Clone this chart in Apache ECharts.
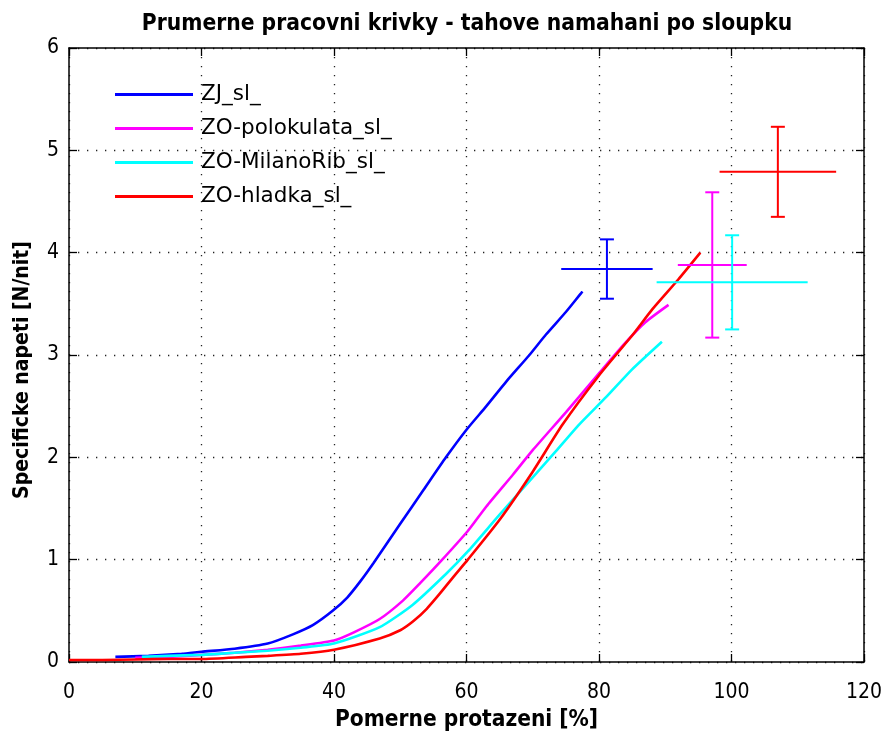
<!DOCTYPE html>
<html>
<head>
<meta charset="utf-8">
<script src="https://cdn.jsdelivr.net/npm/echarts@6/dist/echarts.min.js"></script>
<style>
  html, body { margin: 0; padding: 0; background: #fff; }
  #chart { width: 885px; height: 737px; }
</style>
</head>
<body>
<div id="chart"></div>
<script>
// Mean tensile working curves, strain [%] vs specific stress [N/nit]
const seriesNames = ['ZJ_sl_', 'ZO-polokulata_sl_', 'ZO-MilanoRib_sl_', 'ZO-hladka_sl_'];
const seriesColors = ['#0000ff', '#ff00ff', '#00ffff', '#ff0000'];

const zjX = [7, 12, 17, 20, 25, 30, 33.8, 36.8, 39.8, 42, 44, 46, 50, 53.5, 56.9, 60, 63, 66, 69.5, 72, 75, 77.5];
const zjY = [0.05, 0.06, 0.08, 0.10, 0.13, 0.18, 0.27, 0.36, 0.5, 0.63, 0.79, 0.97, 1.35, 1.68, 2.0, 2.27, 2.5, 2.74, 3.0, 3.2, 3.42, 3.62];

const poloX = [10, 15, 20, 25, 30, 35, 40, 43, 46.9, 50.4, 53, 56.2, 60.2, 63, 67, 70, 75, 80, 84, 87, 90.5];
const poloY = [0.04, 0.05, 0.07, 0.09, 0.12, 0.16, 0.21, 0.29, 0.42, 0.6, 0.77, 0.99, 1.28, 1.52, 1.83, 2.07, 2.44, 2.82, 3.12, 3.32, 3.49];

const milanoX = [11, 15, 20, 25, 30, 35, 40, 46.9, 51.9, 56.9, 60.2, 65, 70.5, 73.5, 77, 81.1, 85, 89.5];
const milanoY = [0.05, 0.06, 0.07, 0.09, 0.11, 0.14, 0.18, 0.34, 0.56, 0.86, 1.08, 1.44, 1.84, 2.06, 2.32, 2.59, 2.86, 3.13];

const hladkaX = [0, 5, 10, 15, 20, 26.7, 30, 35, 40, 46.9, 50, 52, 54, 56, 58, 60.2, 65, 70, 74.5, 80, 85, 88.1, 92, 95.3];
const hladkaY = [0.02, 0.02, 0.025, 0.03, 0.03, 0.05, 0.06, 0.08, 0.12, 0.23, 0.31, 0.40, 0.52, 0.67, 0.83, 1.0, 1.39, 1.86, 2.32, 2.80, 3.19, 3.45, 3.74, 4.0];

// Break points: mean strain / stress with their deviations
const breakX = [81.2, 97.1, 100.1, 107.0];
const breakY = [3.84, 3.88, 3.71, 4.79];
const breakXErr = [6.9, 5.2, 11.4, 8.8];
const breakYErr = [0.29, 0.71, 0.46, 0.44];

const xTicks = [0, 20, 40, 60, 80, 100, 120];
const yTicks = [0, 1, 2, 3, 4, 5, 6];

const curves = [[zjX, zjY], [poloX, poloY], [milanoX, milanoY], [hladkaX, hladkaY]];

const narrowFont = '"DejaVu Sans Condensed", "Liberation Sans", sans-serif';
const tickFont = { fontFamily: narrowFont, fontSize: 21, color: '#000' };

const chart = echarts.init(document.getElementById('chart'), null, { renderer: 'canvas' });

const lineSeries = curves.map((c, i) => ({
  name: seriesNames[i],
  type: 'line',
  xAxisIndex: 0,
  yAxisIndex: 0,
  data: c[0].map((x, k) => [x, c[1][k]]),
  symbol: 'none',
  smooth: 0.2,
  lineStyle: { color: seriesColors[i], width: 2.6 },
  itemStyle: { color: seriesColors[i] },
  z: 3
}));

const errSeries = breakX.map((x, i) => ({
  name: 'err' + i,
  type: 'custom',
  xAxisIndex: 0,
  yAxisIndex: 0,
  data: [[x, breakY[i], breakXErr[i], breakYErr[i]]],
  z: 4,
  renderItem: function (params, api) {
    const cx = api.value(0), cy = api.value(1), ex = api.value(2), ey = api.value(3);
    const left = api.coord([cx - ex, cy]);
    const right = api.coord([cx + ex, cy]);
    const top = api.coord([cx, cy + ey]);
    const bot = api.coord([cx, cy - ey]);
    const cap = 7;
    const st = { stroke: seriesColors[i], lineWidth: 2 };
    return {
      type: 'group',
      children: [
        { type: 'line', shape: { x1: left[0], y1: left[1], x2: right[0], y2: right[1] }, style: st },
        { type: 'line', shape: { x1: top[0], y1: top[1], x2: bot[0], y2: bot[1] }, style: st },
        { type: 'line', shape: { x1: top[0] - cap, y1: top[1], x2: top[0] + cap, y2: top[1] }, style: st },
        { type: 'line', shape: { x1: bot[0] - cap, y1: bot[1], x2: bot[0] + cap, y2: bot[1] }, style: st }
      ]
    };
  }
}));

const gridDots = { show: true, lineStyle: { color: '#222', width: 1.3, type: [1.3, 7.7] } };
const boxLine = { show: true, onZero: false, lineStyle: { color: '#000', width: 1.5 } };
const innerTick = { show: true, inside: true, length: 8, lineStyle: { color: '#000', width: 1.3 } };

chart.setOption({
  animation: false,
  backgroundColor: '#fff',
  title: {
    text: 'Prumerne pracovni krivky - tahove namahani po sloupku',
    left: 462,
    textAlign: 'center',
    top: 8,
    textStyle: { fontFamily: narrowFont, fontWeight: 'bold', fontSize: 22.6, color: '#000' }
  },
  grid: { left: 69, right: 20, top: 48, bottom: 65 },
  legend: {
    data: seriesNames,
    orient: 'vertical',
    left: 115,
    top: 83,
    padding: 0,
    icon: 'rect',
    itemWidth: 78,
    itemHeight: 3,
    itemGap: 11,
    textStyle: { fontFamily: 'DejaVu Sans', fontSize: 21.5, lineHeight: 23, color: '#000', padding: [0, 0, 0, 3] }
  },
  xAxis: [{
    type: 'value', min: 0, max: 120, interval: 20, position: 'bottom',
    name: 'Pomerne protazeni [%]', nameLocation: 'middle', nameGap: 47,
    nameTextStyle: { fontFamily: narrowFont, fontWeight: 'bold', fontSize: 22.5, color: '#000' },
    axisLine: boxLine, axisTick: innerTick,
    axisLabel: Object.assign({ margin: 20, formatter: v => xTicks.includes(v) ? String(v) : '' }, tickFont),
    splitLine: gridDots
  }, {
    type: 'value', min: 0, max: 120, interval: 20, position: 'top',
    axisLine: boxLine, axisTick: innerTick, axisLabel: { show: false }, splitLine: { show: false }
  }],
  yAxis: [{
    type: 'value', min: 0, max: 6, interval: 1, position: 'left',
    name: 'Specificke napeti [N/nit]', nameLocation: 'middle', nameGap: 36, nameRotate: 90,
    nameTextStyle: { fontFamily: narrowFont, fontWeight: 'bold', fontSize: 21, color: '#000', padding: [0, 30, 0, 0] },
    axisLine: boxLine, axisTick: innerTick,
    axisLabel: Object.assign({ margin: 10, formatter: v => yTicks.includes(v) ? String(v) : '' }, tickFont),
    splitLine: gridDots
  }, {
    type: 'value', min: 0, max: 6, interval: 1, position: 'right',
    axisLine: boxLine, axisTick: innerTick, axisLabel: { show: false }, splitLine: { show: false }
  }],
  series: lineSeries.concat(errSeries)
});
</script>
</body>
</html>
